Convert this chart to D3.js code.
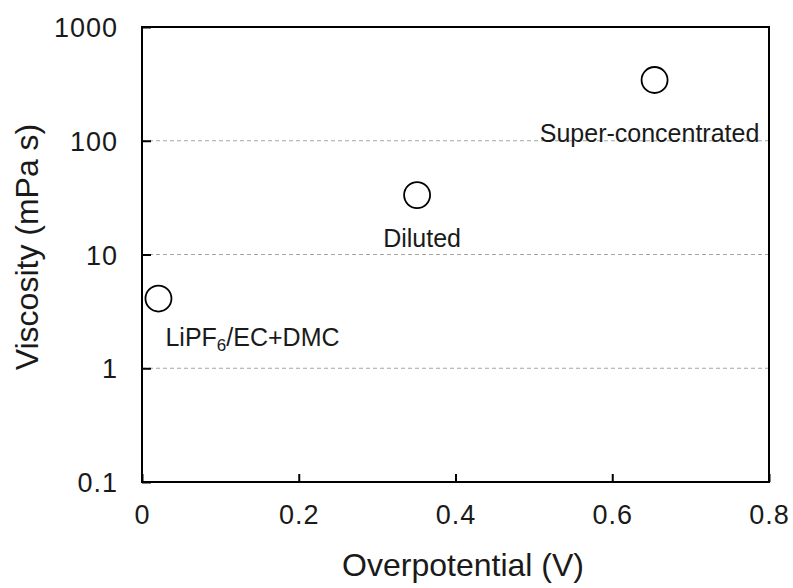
<!DOCTYPE html>
<html>
<head>
<meta charset="utf-8">
<script src="https://cdn.jsdelivr.net/npm/d3@7"></script>
<style>
  html, body { margin: 0; padding: 0; background: #fff; }
  svg { display: block; font-family: Arial, "Liberation Sans", sans-serif; }
</style>
</head>
<body>
<svg id="chart" width="793" height="588"></svg>
<script>
// electrolytes: overpotential (V) vs viscosity (mPa s)
const names = ['LiPF6/EC+DMC', 'Diluted', 'Super-concentrated'];
const overpotential = [0.021, 0.351, 0.654];
const viscosity = [4.1, 33.3, 342];
// label offsets from the marker (px)
const labelDx = [7, 5, -5];
const labelDy = [47, 52, 62];
const labelAnchor = ['start', 'middle', 'middle'];

const xTicks = [0, 0.2, 0.4, 0.6, 0.8];
const yTicks = [0.1, 1, 10, 100, 1000];

const svg = d3.select('#chart');
const margin = { top: 27, right: 24, bottom: 106, left: 142 };
const width = 793 - margin.left - margin.right;
const height = 588 - margin.top - margin.bottom;

const x = d3.scaleLinear().domain([0, 0.8]).range([0, width]);
const y = d3.scaleLog().domain([0.1, 1000]).range([height, 0]);

const g = svg.append('g').attr('transform', `translate(${margin.left},${margin.top})`);

// dashed gridlines
g.append('g')
  .selectAll('line')
  .data(yTicks.slice(1, -1))
  .join('line')
  .attr('x1', 0)
  .attr('x2', width)
  .attr('y1', d => y(d))
  .attr('y2', d => y(d))
  .attr('stroke', '#a6a6a6')
  .attr('stroke-width', 1)
  .attr('stroke-dasharray', '4 3');

// axes, ticks pointing inward
const xAxis = g.append('g')
  .attr('transform', `translate(0,${height})`)
  .call(d3.axisBottom(x).tickValues(xTicks).tickSizeInner(-8).tickSizeOuter(0).tickPadding(23).tickFormat(d3.format('')));

const yAxis = g.append('g')
  .call(d3.axisLeft(y).tickValues(yTicks).tickSizeInner(-9).tickSizeOuter(0).tickPadding(24).tickFormat(d => String(d)));

[xAxis, yAxis].forEach(a => {
  a.select('.domain').remove();
  a.selectAll('.tick line').attr('stroke', '#000').attr('stroke-width', 2);
  a.selectAll('.tick text')
    .attr('fill', '#1a1a1a')
    .attr('font-size', 27)
    .attr('letter-spacing', 1)
    .attr('font-family', 'Arial, "Liberation Sans", sans-serif');
});
xAxis.selectAll('.tick text').attr('dy', '0.71em');
yAxis.selectAll('.tick text').attr('dy', '0.36em');

// frame
g.append('rect')
  .attr('width', width)
  .attr('height', height)
  .attr('fill', 'none')
  .attr('stroke', '#000')
  .attr('stroke-width', 2);

// markers
g.append('g')
  .selectAll('circle')
  .data(names)
  .join('circle')
  .attr('cx', (d, i) => x(overpotential[i]))
  .attr('cy', (d, i) => y(viscosity[i]))
  .attr('r', 13)
  .attr('fill', '#fff')
  .attr('stroke', '#000')
  .attr('stroke-width', 1.8);

// point labels
const labels = g.append('g')
  .selectAll('text')
  .data(names)
  .join('text')
  .attr('x', (d, i) => x(overpotential[i]) + labelDx[i])
  .attr('y', (d, i) => y(viscosity[i]) + labelDy[i])
  .attr('text-anchor', (d, i) => labelAnchor[i])
  .attr('font-size', 25)
  .attr('fill', '#1a1a1a');

labels.each(function(d) {
  const t = d3.select(this);
  const m = d.match(/^(.*?)(\d)(\/.*)$/);
  if (m) {
    t.append('tspan').text(m[1]);
    t.append('tspan').attr('font-size', 17).attr('dy', 5).text(m[2]);
    t.append('tspan').attr('dy', -5).text(m[3]);
  } else {
    t.text(d);
  }
});

// axis titles
svg.append('text')
  .attr('x', 463)
  .attr('y', 576)
  .attr('text-anchor', 'middle')
  .attr('font-size', 32)
  .attr('fill', '#1a1a1a')
  .text('Overpotential  (V)');

svg.append('text')
  .attr('transform', 'translate(38,247) rotate(-90)')
  .attr('text-anchor', 'middle')
  .attr('font-size', 32)
  .attr('fill', '#1a1a1a')
  .text('Viscosity (mPa s)');
</script>
</body>
</html>
